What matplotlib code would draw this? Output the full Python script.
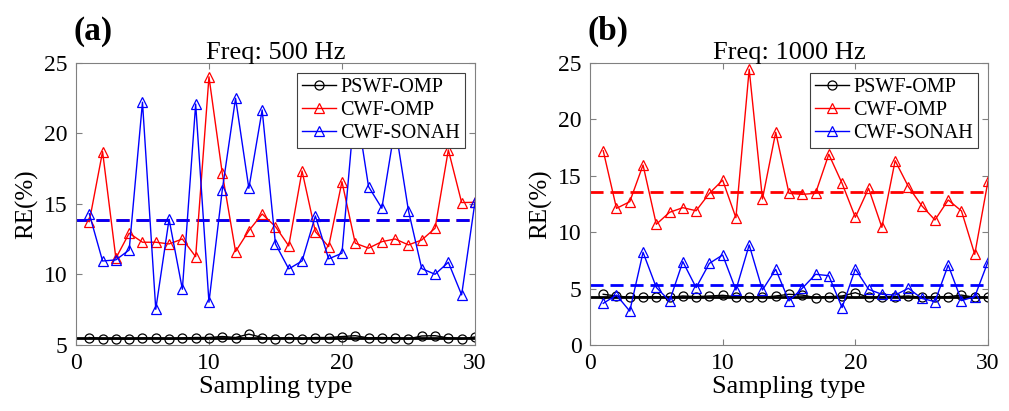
import matplotlib
matplotlib.use("Agg")
import matplotlib.pyplot as plt
import numpy as np

plt.rcParams['font.family'] = ['Liberation Serif', 'DejaVu Serif']

x = list(range(1, 31))

# Panel (a): 500 Hz
a_pswf = [5.53, 5.43, 5.45, 5.43, 5.48, 5.48, 5.43, 5.48, 5.53, 5.53,
          5.60, 5.53, 5.77, 5.53, 5.43, 5.53, 5.43, 5.53, 5.53, 5.60,
          5.66, 5.50, 5.53, 5.50, 5.43, 5.64, 5.66, 5.50, 5.43, 5.57]
a_cwf_omp = [13.74, 18.70, 11.15, 12.92, 12.28, 12.28, 12.16, 12.51, 11.26, 24.00,
             17.17, 11.62, 13.10, 14.28, 13.39, 12.02, 17.33, 13.03, 11.97, 16.57,
             12.21, 11.86, 12.32, 12.51, 12.09, 12.44, 13.27, 18.82, 15.09, 15.11]
a_cwf_sonah = [14.30, 10.95, 11.03, 11.73, 22.20, 7.53, 13.91, 8.95, 22.07, 8.03,
               15.98, 22.48, 16.10, 21.65, 12.16, 10.39, 10.95, 14.14, 11.10, 11.50,
               22.30, 16.22, 14.69, 20.50, 14.52, 10.41, 10.01, 10.86, 8.55, 15.11]
a_mean = {'pswf': 5.52, 'omp': 13.87, 'sonah': 13.84}

# Panel (b): 1000 Hz
b_pswf = [4.49, 4.34, 4.22, 4.28, 4.28, 4.22, 4.34, 4.28, 4.34, 4.40,
          4.28, 4.28, 4.22, 4.34, 4.49, 4.42, 4.19, 4.28, 4.34, 4.63,
          4.22, 4.22, 4.28, 4.34, 4.22, 4.28, 4.28, 4.42, 4.22, 4.22]
b_cwf_omp = [17.20, 12.10, 12.69, 15.94, 10.69, 11.75, 12.16, 11.89, 13.43, 14.60,
             11.27, 24.42, 12.93, 18.84, 13.43, 13.34, 13.43, 16.89, 14.32, 11.31,
             13.87, 10.42, 16.32, 14.02, 12.34, 11.07, 12.84, 11.87, 8.03, 14.52]
b_cwf_sonah = [3.69, 4.42, 3.00, 8.21, 5.10, 3.90, 7.38, 5.08, 7.23, 7.97,
               4.87, 8.86, 4.87, 6.70, 3.90, 5.02, 6.26, 6.14, 3.31, 6.73,
               4.93, 4.49, 4.42, 5.02, 4.13, 3.84, 7.08, 3.93, 4.28, 7.38]
b_mean = {'pswf': 4.28, 'omp': 13.52, 'sonah': 5.31}

labels = ['PSWF-OMP', 'CWF-OMP', 'CWF-SONAH']
xticks = [0, 10, 20, 30]

fig = plt.figure(figsize=(10.09, 4.11), dpi=100)
ax1 = fig.add_axes([0.0753, 0.1606, 0.3954, 0.6869])
ax2 = fig.add_axes([0.5847, 0.1606, 0.3945, 0.6869])

def draw(ax, pswf, omp, sonah, means, ylim, yticks, title, tag):
    ax.plot(x, pswf, color='black', marker='o', mfc='none', ms=6.5, lw=1.0, mew=0.9, label=labels[0])
    ax.plot(x, omp, color='red', marker='^', mfc='none', ms=7.5, lw=1.0, mew=0.9, label=labels[1])
    ax.plot(x, sonah, color='blue', marker='^', mfc='none', ms=7.5, lw=1.0, mew=0.9, label=labels[2])
    ax.axhline(means['pswf'], color='black', lw=2.0, zorder=1)
    ax.axhline(means['omp'], color='red', lw=2.0, ls=(0, (4.7, 2.5)), zorder=1)
    ax.axhline(means['sonah'], color='blue', lw=2.0, ls=(0, (4.7, 2.5)), zorder=1)
    ax.set_xlim(0, 30)
    ax.set_ylim(*ylim)
    ax.set_xticks(xticks)
    ax.set_yticks(yticks)
    ax.tick_params(direction='in', top=True, right=True, labelsize=17, length=4,
                   color='#808080', pad=6)
    for s in ax.spines.values():
        s.set_color('#808080')
        s.set_linewidth(0.8)
    ax.set_xlabel('Sampling type', fontsize=19, labelpad=1)
    ax.set_ylabel('RE(%)', fontsize=18, labelpad=4)
    ax.set_title(title, fontsize=19, pad=3)
    ax.text(-0.005, 1.055, tag, transform=ax.transAxes, fontsize=24, fontweight='bold',
            ha='left', va='bottom')
    leg = ax.legend(loc='upper right', fontsize=14.5, frameon=True, fancybox=False,
                    framealpha=1.0, borderpad=0.25, labelspacing=0.2, handlelength=1.7,
                    handletextpad=0.2, borderaxespad=0.5)
    leg.get_frame().set_edgecolor('#404040')
    leg.get_frame().set_linewidth(0.8)

draw(ax1, a_pswf, a_cwf_omp, a_cwf_sonah, a_mean, (5, 25), [5, 10, 15, 20, 25], 'Freq: 500 Hz', '(a)')
draw(ax2, b_pswf, b_cwf_omp, b_cwf_sonah, b_mean, (0, 25), [0, 5, 10, 15, 20, 25], 'Freq: 1000 Hz', '(b)')

fig.savefig('out.png', dpi=100)
